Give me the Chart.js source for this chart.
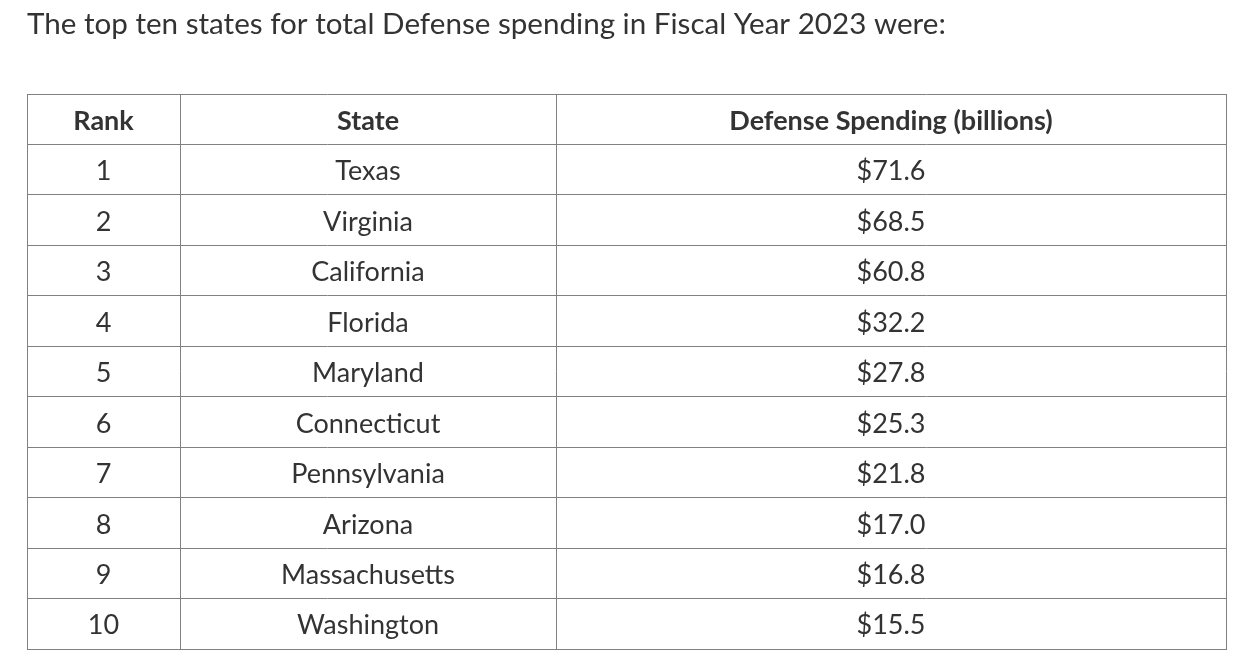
<!DOCTYPE html>
<html>
<head>
<meta charset="utf-8">
<script src="https://cdn.jsdelivr.net/npm/chart.js@4.4.1/dist/chart.umd.min.js"></script>
<style>
  html, body { margin: 0; padding: 0; background: #fff; }
  canvas { display: block; }
</style>
</head>
<body>
<canvas id="tableChart" width="1256" height="669"></canvas>
<script>
const titleText = "The top ten states for total Defense spending in Fiscal Year 2023 were:";
const headers = ["Rank", "State", "Defense Spending (billions)"];
const ranks = [1, 2, 3, 4, 5, 6, 7, 8, 9, 10];
const states = ["Texas", "Virginia", "California", "Florida", "Maryland",
  "Connecticut", "Pennsylvania", "Arizona", "Massachusetts", "Washington"];
const spending = [71.6, 68.5, 60.8, 32.2, 27.8, 25.3, 21.8, 17.0, 16.8, 15.5];

// column borders in x-scale units (pixel widths of the columns)
const colEdges = [0, 153, 529, 1199];
const rowCount = ranks.length + 1;

const textColor = "#333333";
const lineColor = "#808080";
const fontFamily = "Lato, 'Open Sans', sans-serif";

function colCenter(i) {
  return (colEdges[i] + colEdges[i + 1]) / 2;
}

const columns = [
  ranks.map(r => String(r)),
  states,
  spending.map(v => "$" + v.toFixed(1))
];

const datasets = columns.map((texts, c) => ({
  label: headers[c],
  labels: [headers[c], ...texts],
  data: [headers[c], ...texts].map((_, r) => ({ x: colCenter(c), y: r + 0.5 })),
  pointRadius: 0,
  pointHoverRadius: 0
}));

const cellText = {
  id: "cellText",
  afterDatasetsDraw(chart) {
    const ctx = chart.ctx;
    ctx.save();
    ctx.fillStyle = textColor;
    ctx.textAlign = "center";
    ctx.textBaseline = "middle";
    chart.data.datasets.forEach((ds, i) => {
      chart.getDatasetMeta(i).data.forEach((pt, r) => {
        ctx.font = (r === 0 ? "bold " : "") + "27px " + fontFamily;
        ctx.fillText(ds.labels[r], pt.x, pt.y + 2);
      });
    });
    ctx.restore();
  }
};

new Chart(document.getElementById("tableChart"), {
  type: "scatter",
  data: { datasets },
  plugins: [cellText],
  options: {
    responsive: false,
    devicePixelRatio: 1,
    animation: false,
    events: [],
    layout: { padding: { left: 27, right: 30, top: 0, bottom: 20 } },
    plugins: {
      legend: { display: false },
      tooltip: { enabled: false },
      title: {
        display: true,
        text: titleText,
        align: "start",
        color: textColor,
        font: { family: fontFamily, size: 29.6, weight: "normal" },
        padding: { top: 7, bottom: 51.5 }
      }
    },
    scales: {
      x: {
        type: "linear",
        min: colEdges[0],
        max: colEdges[colEdges.length - 1],
        afterBuildTicks: axis => { axis.ticks = colEdges.map(v => ({ value: v })); },
        ticks: { display: false },
        grid: { color: lineColor, lineWidth: 1, drawTicks: false },
        border: { display: true, color: lineColor }
      },
      y: {
        type: "linear",
        reverse: true,
        min: 0,
        max: rowCount,
        afterBuildTicks: axis => {
          axis.ticks = Array.from({ length: rowCount + 1 }, (_, i) => ({ value: i }));
        },
        ticks: { display: false },
        grid: { color: lineColor, lineWidth: 1, drawTicks: false },
        border: { display: true, color: lineColor }
      }
    }
  }
});
</script>
</body>
</html>
